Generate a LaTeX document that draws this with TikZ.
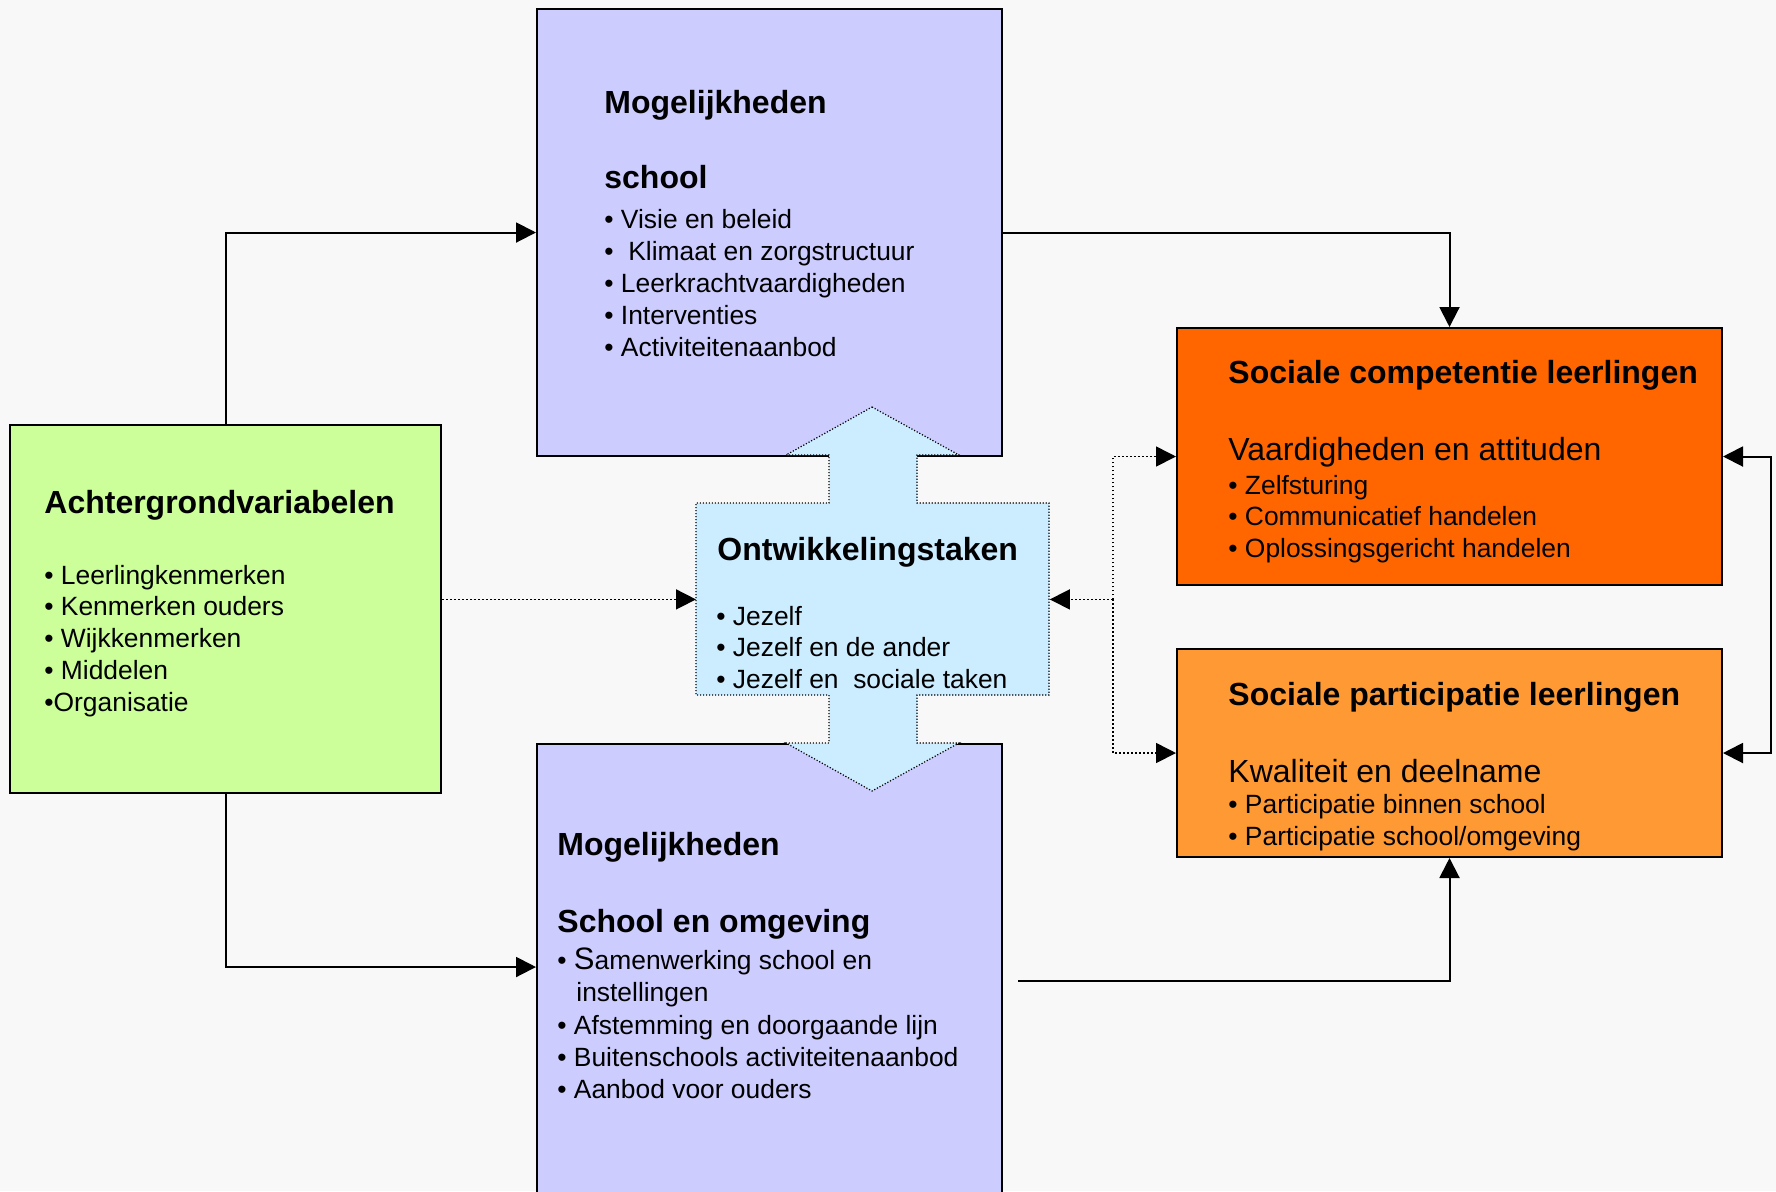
\documentclass[tikz,border=0pt]{standalone}
\usepackage{fontspec}
\setmainfont{Liberation Sans}
\usetikzlibrary{arrows.meta,calc}

\definecolor{bgcol}{RGB}{248,248,248}
\definecolor{schoolcol}{RGB}{204,204,255}
\definecolor{achtcol}{RGB}{204,255,153}
\definecolor{takencol}{RGB}{204,236,255}
\definecolor{compcol}{RGB}{255,102,0}
\definecolor{partcol}{RGB}{255,153,51}

\tikzset{
  vak/.style={draw, line width=1pt, inner sep=0pt, anchor=north west},
  kop/.style={anchor=base west, inner sep=0pt, font=\fontsize{16pt}{18pt}\selectfont\bfseries},
  subkop/.style={anchor=base west, inner sep=0pt, font=\fontsize{16pt}{18pt}\selectfont},
  punt/.style={anchor=base west, inner sep=0pt, font=\fontsize{13.2pt}{15pt}\selectfont},
  pijl/.style={line width=1pt, -{Triangle[length=10pt,width=10pt]}},
  tweepijl/.style={line width=1pt, {Triangle[length=10pt,width=10pt]}-{Triangle[length=10pt,width=10pt]}},
  stippel/.style={pijl, line width=0.8pt, dash pattern=on 0.8pt off 1.2pt},
  kruisrand/.style={line width=0.6pt, dash pattern=on 0.6pt off 0.9pt},
}

\begin{document}
\begin{tikzpicture}[x=0.5pt,y=-0.5pt]

\path [use as bounding box] (0,0) rectangle (1776,1191);
\begin{scope}
\clip (0,0) rectangle (1776,1191);
\fill [bgcol] (0,0) rectangle (1776,1191);

% BOXES
\node [vak, fill=achtcol, minimum width=215.5pt, minimum height=184pt] (achter) at (9,424) {};
\node [vak, fill=schoolcol, minimum width=232.5pt, minimum height=223.5pt] (mogschool) at (536,8) {};
\node [vak, fill=schoolcol, minimum width=232.5pt, minimum height=253.5pt] (mogomg) at (536,743) {};
\node [vak, fill=compcol, minimum width=272.5pt, minimum height=128.5pt] (comp) at (1176,327) {};
\node [vak, fill=partcol, minimum width=272.5pt, minimum height=104pt] (part) at (1176,648) {};
\node [anchor=north west, inner sep=0pt, minimum width=176.5pt, minimum height=96pt] (taken) at (696,503) {};

% DOUBLE ARROW
\filldraw [fill=takencol, kruisrand] (872,407) -- (959,455) -- (917,455) -- (917,503)
  -- (1049,503) -- (1049,695) -- (917,695) -- (917,743) -- (959,743) -- (872,791)
  -- (786,743) -- (829,743) -- (829,695) -- (696,695) -- (696,503) -- (829,503)
  -- (829,455) -- (786,455) -- cycle;

% CONNECTORS
\coordinate (omgin) at ($(mogomg.north west)+(0,224)$);
\coordinate (omguit) at ($(mogomg.north east)+(15,238)$);
\coordinate (knoop) at ($(taken.east)+(63,0)$);
\draw [pijl] (achter.north) |- (mogschool.west);
\draw [pijl] (achter.south) |- (omgin);
\draw [stippel] (achter.east |- taken.west) -- (taken.west);
\draw [pijl] (mogschool.east) -| (comp.north);
\draw [pijl] (omguit) -| (part.south);
\draw [stippel] (knoop) -- (taken.east);
\draw [stippel] (knoop) |- (comp.west);
\draw [stippel] (knoop) |- (part.west);
\draw [tweepijl] (comp.east) -- ++(48,0) |- (part.east);

% TEXTS
\node [kop] (achter-kop) at (44,513) {Achtergrondvariabelen};
\foreach \t [count=\i] in {{• Leerlingkenmerken}, {• Kenmerken ouders}, {• Wijkkenmerken}, {• Middelen}, {•Organisatie}}
  \node [punt] (achter-\i) at (44,{584+31.8*(\i-1)}) {\t};

\node [kop] (school-kop) at (604,113) {Mogelijkheden};
\node [kop] (school-sub) at (604,188) {school};
\foreach \t [count=\i] in {{• Visie en beleid}, {•\ \ Klimaat en zorgstructuur}, {• Leerkrachtvaardigheden}, {• Interventies}, {• Activiteitenaanbod}}
  \node [punt] (school-\i) at (604,{228+32*(\i-1)}) {\t};

\node [kop] (omg-kop) at (557,855) {Mogelijkheden};
\node [kop] (omg-sub) at (557,932) {School en omgeving};
\node [punt] (omg-1) at (557,969) {• {\fontsize{15.5pt}{17pt}\selectfont S}amenwerking school en};
\node [punt] (omg-1b) at (576,1001) {instellingen};
\foreach \t [count=\i] in {{• Afstemming en doorgaande lijn}, {• Buitenschools activiteitenaanbod}, {• Aanbod voor ouders}}
  \node [punt] (omg-\i) at (557,{1034+32*(\i-1)}) {\t};

\node [kop] (taken-kop) at (717,560) {Ontwikkelingstaken};
\foreach \t [count=\i] in {{• Jezelf}, {• Jezelf en de ander}, {• Jezelf en\ \ sociale taken}}
  \node [punt] (taken-\i) at (716,{625+31.5*(\i-1)}) {\t};

\node [kop] (comp-kop) at (1228,383) {Sociale competentie leerlingen};
\node [subkop] (comp-sub) at (1228,460) {Vaardigheden en attituden};
\foreach \t [count=\i] in {{• Zelfsturing}, {• Communicatief handelen}, {• Oplossingsgericht handelen}}
  \node [punt] (comp-\i) at (1228,{494+31.5*(\i-1)}) {\t};

\node [kop] (part-kop) at (1228,705) {Sociale participatie leerlingen};
\node [subkop] (part-sub) at (1228,782) {Kwaliteit en deelname};
\foreach \t [count=\i] in {{• Participatie binnen school}, {• Participatie school/omgeving}}
  \node [punt] (part-\i) at (1228,{813+32*(\i-1)}) {\t};

\end{scope}
\end{tikzpicture}
\end{document}
